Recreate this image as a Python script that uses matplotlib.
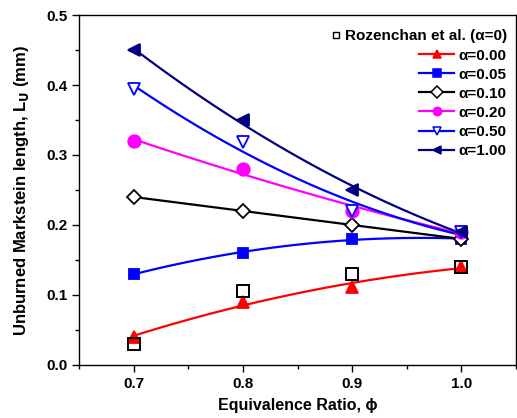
import numpy as np
import matplotlib
matplotlib.use("Agg")
import matplotlib.pyplot as plt
from matplotlib.ticker import MultipleLocator, FormatStrFormatter
from matplotlib.lines import Line2D

plt.rcParams['font.family'] = ['Liberation Sans', 'DejaVu Sans']
plt.rcParams['font.weight'] = 'bold'

phi = [0.7, 0.8, 0.9, 1.0]

# Rozenchan et al. (alpha=0) reference points
rozenchan = [0.03, 0.105, 0.13, 0.14]

alpha_labels = ["α=0.00", "α=0.05", "α=0.10", "α=0.20", "α=0.50", "α=1.00"]
lu_000 = [0.04, 0.09, 0.112, 0.14]
lu_005 = [0.13, 0.16, 0.18, 0.18]
lu_010 = [0.24, 0.22, 0.20, 0.18]
lu_020 = [0.32, 0.28, 0.22, 0.19]
lu_050 = [0.395, 0.318, 0.22, 0.19]
lu_100 = [0.45, 0.35, 0.25, 0.19]

series = [lu_000, lu_005, lu_010, lu_020, lu_050, lu_100]
colors = ["#ff0000", "#0000ff", "#000000", "#ff00ff", "#0000ff", "#000080"]
markers = ["^", "s", "D", "o", "v", "<"]
filled = [True, True, False, True, False, True]
msizes = [8, 7, 7, 9, 9, 8]

fig = plt.figure(figsize=(5.17, 4.18), dpi=100)
ax = fig.add_axes([0.153, 0.127, 0.845, 0.837])

xs = np.linspace(0.7, 1.0, 100)
handles = []
for vals, c, m, f, ms, lab in zip(series, colors, markers, filled, msizes, alpha_labels):
    # smooth curve through the points (fit, like the original spline)
    coef = np.polyfit(phi, vals, 2)
    ax.plot(xs, np.polyval(coef, xs), color=c, lw=1.6, zorder=2)
    fc = c if f else "white"
    ax.plot(phi, vals, ls="none", marker=m, ms=ms, mfc=fc, mec=c, mew=1.3, zorder=3)
    handles.append(Line2D([], [], color=c, lw=1.6, marker=m, ms=6, mfc=fc, mec=c, mew=1.1, label=lab))

ax.plot(phi, rozenchan, ls="none", marker="s", ms=8, mfc="none", mec="black", mew=1.4, zorder=4)

ax.set_xlim(0.65, 1.05)
ax.set_ylim(0.0, 0.5)
ax.xaxis.set_major_locator(MultipleLocator(0.1))
ax.xaxis.set_minor_locator(MultipleLocator(0.05))
ax.yaxis.set_major_locator(MultipleLocator(0.1))
ax.yaxis.set_minor_locator(MultipleLocator(0.05))
ax.xaxis.set_major_formatter(FormatStrFormatter('%.1f'))
ax.yaxis.set_major_formatter(FormatStrFormatter('%.1f'))
ax.tick_params(which='both', direction='out', labelsize=11, top=False, right=False)
ax.tick_params(which='major', length=5, width=1)
ax.tick_params(which='minor', length=3, width=1)
for s in ax.spines.values():
    s.set_linewidth(1.0)

ax.set_xlabel("Equivalence Ratio, ϕ", fontsize=11.5, fontweight='bold', labelpad=5)
ax.set_ylabel("Unburned Markstein length, L$_\\mathbf{U}$ (mm)", fontsize=12, fontweight='bold', labelpad=11)

roz_handle = Line2D([], [], ls="none", marker="s", ms=5, mfc="none", mec="black", mew=1.0,
                    label="Rozenchan et al. (α=0)")
leg1 = ax.legend(handles=[roz_handle], loc="upper right", bbox_to_anchor=(1.0, 0.985),
                 frameon=False, fontsize=11, handlelength=0.5, handletextpad=0.3,
                 borderaxespad=0.2)
ax.add_artist(leg1)
ax.legend(handles=handles, loc="upper right", bbox_to_anchor=(1.0, 0.93),
          frameon=False, fontsize=11, handlelength=2.3, handletextpad=0.3,
          labelspacing=0.33, borderaxespad=0.2)

fig.savefig("out.png", dpi=100)
